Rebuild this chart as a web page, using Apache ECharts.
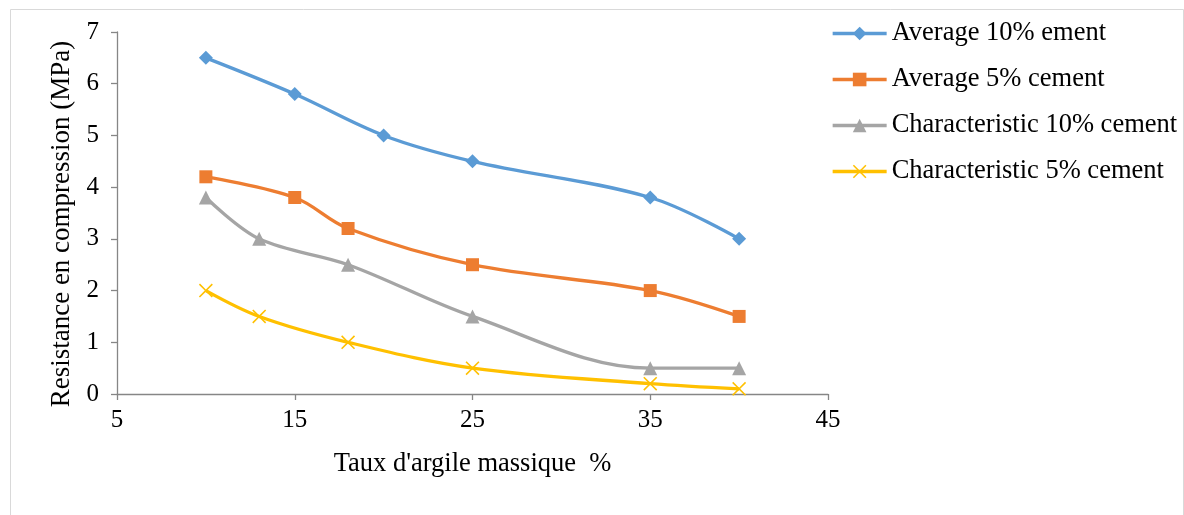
<!DOCTYPE html>
<html>
<head>
<meta charset="utf-8">
<script src="https://cdn.jsdelivr.net/npm/echarts@6/dist/echarts.min.js"></script>
<style>html,body{margin:0;padding:0;background:#fff;}#c{width:1184px;height:515px;}</style>
</head>
<body>
<div id="c"></div>
<script>
const seriesNames = ['Average 10% ement', 'Average 5% cement', 'Characteristic 10% cement', 'Characteristic 5% cement'];
const avg10X = [10, 15, 20, 25, 35, 40];
const avg10Y = [6.5, 5.8, 5.0, 4.5, 3.8, 3.0];
const avg5X = [10, 15, 18, 25, 35, 40];
const avg5Y = [4.2, 3.8, 3.2, 2.5, 2.0, 1.5];
const char10X = [10, 13, 18, 25, 35, 40];
const char10Y = [3.8, 3.0, 2.5, 1.5, 0.5, 0.5];
const char5X = [10, 13, 18, 25, 35, 40];
const char5Y = [2.0, 1.5, 1.0, 0.5, 0.2, 0.1];
const xTicks = [5, 15, 25, 35, 45];
const yTicks = [0, 1, 2, 3, 4, 5, 6, 7];

const colors = ['#5B9BD5', '#ED7D31', '#A5A5A5', '#FFC000'];
const xSymbol = 'path://M0,0.8L0.8,0L5,4.2L9.2,0L10,0.8L5.8,5L10,9.2L9.2,10L5,5.8L0.8,10L0,9.2L4.2,5Z';
const symbols = ['diamond', 'rect', 'triangle', xSymbol];
const sizes = [14, 13, 14, 14];
const pairs = (xs, ys) => xs.map((x, i) => [x, ys[i]]);
const allData = [pairs(avg10X, avg10Y), pairs(avg5X, avg5Y), pairs(char10X, char10Y), pairs(char5X, char5Y)];
const font = '"Liberation Serif", "Times New Roman", serif';

const chart = echarts.init(document.getElementById('c'), null, {renderer: 'canvas'});
chart.setOption({
  animation: false,
  color: colors,
  graphic: [{
    type: 'rect', left: 8, top: 7,
    shape: {width: 1173, height: 520},
    style: {fill: 'none', stroke: '#D9D9D9', lineWidth: 1}, silent: true
  }],
  grid: {left: 117, right: 356, top: 32, bottom: 121, containLabel: false},
  legend: {
    orient: 'vertical', left: 826, top: 15,
    itemWidth: 54, itemHeight: 17, itemGap: 19,
    lineStyle: {width: 3.3},
    textStyle: {fontFamily: font, fontSize: 26.5, color: '#000', lineHeight: 27},
    data: seriesNames
  },
  xAxis: {
    type: 'value', min: xTicks[0], max: xTicks[xTicks.length - 1], interval: 10,
    name: "Taux d'argile massique  %", nameLocation: 'middle', nameGap: 57,
    nameTextStyle: {fontFamily: font, fontSize: 26.5, color: '#000'},
    axisLine: {show: true, lineStyle: {color: '#868686', width: 1.3}},
    axisTick: {show: true, inside: false, length: 6, lineStyle: {color: '#868686', width: 1.3}},
    axisLabel: {fontFamily: font, fontSize: 25, color: '#000', margin: 14},
    splitLine: {show: false}
  },
  yAxis: {
    type: 'value', min: yTicks[0], max: yTicks[yTicks.length - 1], interval: 1,
    name: 'Resistance en compression (MPa)', nameLocation: 'middle', nameGap: 42,
    nameTextStyle: {fontFamily: font, fontSize: 27, color: '#000', padding: [0, 22, 0, 0]},
    axisLine: {show: true, lineStyle: {color: '#868686', width: 1.3}},
    axisTick: {show: true, inside: false, length: 6, lineStyle: {color: '#868686', width: 1.3}},
    axisLabel: {fontFamily: font, fontSize: 25, color: '#000', margin: 18},
    splitLine: {show: false}
  },
  series: seriesNames.map((n, i) => ({
    name: n, type: 'line', data: allData[i], smooth: 0.35,
    symbol: symbols[i], symbolSize: sizes[i], showSymbol: true,
    lineStyle: {width: 3.3, color: colors[i]},
    itemStyle: {color: colors[i]}
  }))
});
</script>
</body>
</html>
